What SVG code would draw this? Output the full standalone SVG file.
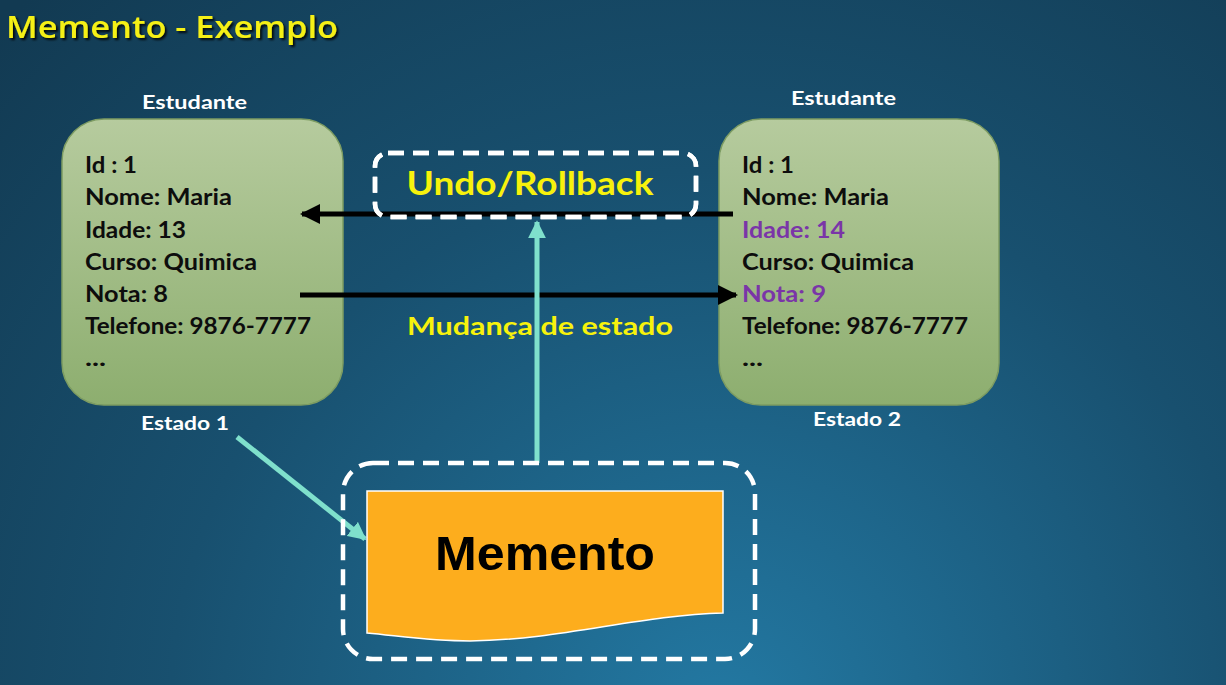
<svg xmlns="http://www.w3.org/2000/svg" width="1226" height="685" viewBox="0 0 1226 685">
<defs>
<radialGradient id="bg" cx="720" cy="720" r="1000" gradientUnits="userSpaceOnUse">
<stop offset="0" stop-color="#2379a3"/>
<stop offset="0.55" stop-color="#18506f"/>
<stop offset="1" stop-color="#123a52"/>
</radialGradient>
<linearGradient id="green" x1="0" y1="0" x2="0" y2="1">
<stop offset="0" stop-color="#b6cb9e"/>
<stop offset="1" stop-color="#8dae6f"/>
</linearGradient>
<marker id="blk" viewBox="0 0 10 10" refX="9" refY="5" markerWidth="4" markerHeight="4" orient="auto" markerUnits="strokeWidth">
<path d="M0,0 L10,5 L0,10 z" fill="#000"/>
</marker>
<marker id="teal" viewBox="0 0 10 10" refX="9" refY="5" markerWidth="3.6" markerHeight="3.6" orient="auto" markerUnits="strokeWidth">
<path d="M0,0 L10,5 L0,10 z" fill="#7fe0cc"/>
</marker>
<filter id="sh" x="-5%" y="-20%" width="110%" height="140%">
<feDropShadow dx="2" dy="2" stdDeviation="0.8" flood-color="#000" flood-opacity="0.85"/>
</filter>
</defs>
<style>
.box{fill:url(#green);stroke:#7d9c62;stroke-width:1.5}
.body{font-family:Lato,"Open Sans",sans-serif;font-weight:bold;font-size:22px;fill:#0d0d0d}
.pur{fill:#7a35a8}
.lbl{font-family:Lato,"Open Sans",sans-serif;font-weight:bold;font-size:19px;fill:#ffffff}
.yel{font-family:Lato,"Open Sans",sans-serif;font-weight:bold;fill:#f7f20c}
.dash{fill:none;stroke:#ffffff;stroke-width:4.5;stroke-dasharray:16 9}
.blk{stroke:#000;stroke-width:5;fill:none}
.tl{stroke:#7fe0cc;stroke-width:5;fill:none}
</style>
<rect width="1226" height="685" fill="url(#bg)"/>
<text x="6" y="38" font-family="'Open Sans',Lato,sans-serif" font-weight="600" font-size="31" fill="#f5f015" filter="url(#sh)" textLength="332" lengthAdjust="spacingAndGlyphs">Memento - Exemplo</text>

<g id="estado1">
<text class="lbl" x="142" y="109" textLength="105" lengthAdjust="spacingAndGlyphs">Estudante</text>
<rect class="box" x="62" y="119" width="281" height="286" rx="42"/>
<text class="body" x="85" y="173" textLength="52" lengthAdjust="spacingAndGlyphs">Id : 1</text>
<text class="body" x="85" y="205" textLength="147" lengthAdjust="spacingAndGlyphs">Nome: Maria</text>
<text class="body" x="85" y="238" textLength="101" lengthAdjust="spacingAndGlyphs">Idade: 13</text>
<text class="body" x="85" y="270" textLength="172" lengthAdjust="spacingAndGlyphs">Curso: Quimica</text>
<text class="body" x="85" y="302" textLength="83" lengthAdjust="spacingAndGlyphs">Nota: 8</text>
<text class="body" x="85" y="334" textLength="226" lengthAdjust="spacingAndGlyphs">Telefone: 9876-7777</text>
<text class="body" x="85" y="366" textLength="21" lengthAdjust="spacingAndGlyphs">...</text>
<text class="lbl" x="141" y="430" textLength="88" lengthAdjust="spacingAndGlyphs">Estado 1</text>
</g>

<g id="estado2">
<text class="lbl" x="791" y="105" textLength="105" lengthAdjust="spacingAndGlyphs">Estudante</text>
<rect class="box" x="719" y="119" width="280" height="286" rx="42"/>
<text class="body" x="742" y="173" textLength="52" lengthAdjust="spacingAndGlyphs">Id : 1</text>
<text class="body" x="742" y="205" textLength="147" lengthAdjust="spacingAndGlyphs">Nome: Maria</text>
<text class="body pur" x="742" y="238" textLength="103" lengthAdjust="spacingAndGlyphs">Idade: 14</text>
<text class="body" x="742" y="270" textLength="172" lengthAdjust="spacingAndGlyphs">Curso: Quimica</text>
<text class="body pur" x="742" y="302" textLength="84" lengthAdjust="spacingAndGlyphs">Nota: 9</text>
<text class="body" x="742" y="334" textLength="226" lengthAdjust="spacingAndGlyphs">Telefone: 9876-7777</text>
<text class="body" x="742" y="366" textLength="21" lengthAdjust="spacingAndGlyphs">...</text>
<text class="lbl" x="813" y="426" textLength="88" lengthAdjust="spacingAndGlyphs">Estado 2</text>
</g>

<g id="connectors">
<line class="blk" x1="733" y1="214" x2="302" y2="214" marker-end="url(#blk)"/>
<line class="blk" x1="300" y1="295" x2="736" y2="295" marker-end="url(#blk)"/>
<line class="tl" x1="537" y1="463" x2="537" y2="222" marker-end="url(#teal)"/>
<line class="tl" x1="237" y1="437" x2="365" y2="539" marker-end="url(#teal)"/>
</g>

<g id="undo">
<rect x="375" y="153" width="321" height="64" rx="13" fill="#17496a" class="dash"/>
<rect x="375" y="153" width="321" height="64" rx="13" class="dash"/>
<text class="yel" x="530" y="195" font-size="32" text-anchor="middle" textLength="247" lengthAdjust="spacingAndGlyphs">Undo/Rollback</text>
</g>

<g id="mudanca">
<text class="yel" x="540" y="335" font-size="25" text-anchor="middle" textLength="266" lengthAdjust="spacingAndGlyphs">Mudança de estado</text>
</g>

<g id="memento">
<rect x="343" y="463" width="412" height="196" rx="30" class="dash"/>
<path d="M367,491 H723 V613 C640,615 560,640 470,641 C430,641 400,636 367,633 Z" fill="#fdad1d" stroke="#ffffff" stroke-width="1.5"/>
<text x="545" y="570" font-family="'Liberation Sans',Arial,sans-serif" font-weight="bold" font-size="49" fill="#000" text-anchor="middle" textLength="220" lengthAdjust="spacingAndGlyphs">Memento</text>
</g>
</svg>
